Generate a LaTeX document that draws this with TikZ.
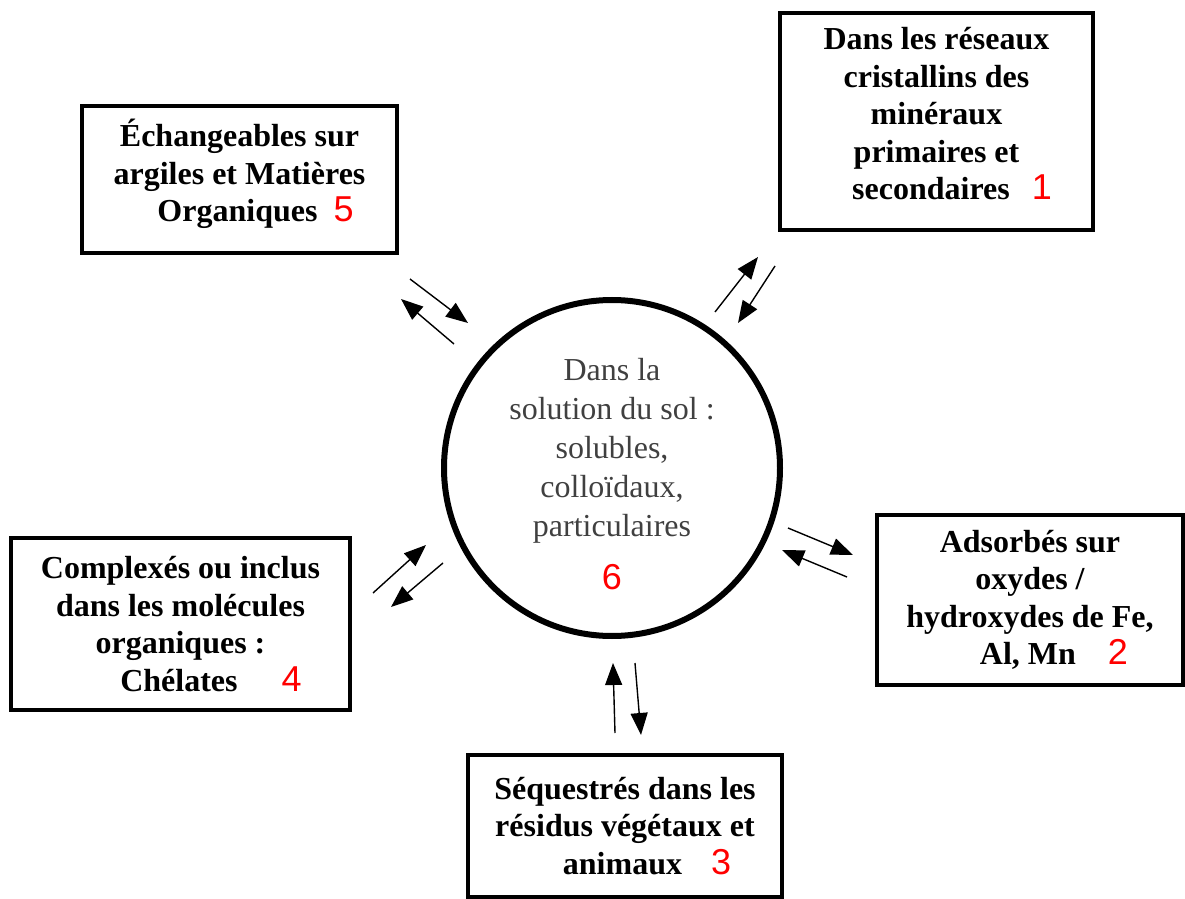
\documentclass[tikz,border=0pt]{standalone}
\usepackage{fontspec}
\setmainfont{Liberation Serif}
\newfontfamily\numfont{Liberation Sans}
\usetikzlibrary{arrows.meta}
\usetikzlibrary{calc,positioning}

\tikzset{
  reservoir/.style={draw, line width=2pt, align=center, inner sep=0pt,
    font=\bfseries\fontsize{16}{18.7}\selectfont},
  echange/.style={-{Triangle[length=11pt,width=8.5pt]}, line width=0.7pt},
}
\newcommand{\numero}[1]{{\numfont\mdseries\color{red}\fontsize{18}{18}\selectfont #1}}

\begin{document}
\begin{tikzpicture}[x=0.5pt, y=-0.5pt]
    \useasboundingbox (0,0) rectangle (1185,899);

    % solution du sol
    \node[circle, draw, line width=3pt, minimum size=168pt, inner sep=0pt, align=center,
          text=black!75, font=\fontsize{16}{19.5}\selectfont] (sol) at (612,468)
          {\rule{0pt}{17pt}Dans la\\ solution du sol :\\ solubles,\\ colloïdaux,\\ particulaires\\[7pt] \numero{6}};

    % reservoirs
    \node[reservoir, minimum width=156.5pt, minimum height=108.5pt, text depth=8pt] (b1) at (936.5,121.5)
          {Dans les réseaux\\ cristallins des\\ minéraux\\ primaires et\\ \hspace*{15.5pt}secondaires\hspace{11pt}\numero{1}};
    \node[reservoir, minimum width=153pt, minimum height=85pt] (b2) at (1030,600)
          {Adsorbés sur\\ oxydes /\\ hydroxydes de Fe,\\ \hspace*{24pt}Al, Mn\hspace{16pt}\numero{2}};
    \node[reservoir, minimum width=157pt, minimum height=71pt] (b3) at (625,826)
          {Séquestrés dans les\\ résidus végétaux et\\ \hspace*{22pt}animaux\hspace{14.5pt}\numero{3}};
    \node[reservoir, minimum width=169.5pt, minimum height=86pt] (b4) at (180.5,624)
          {Complexés ou inclus\\ dans les molécules\\ organiques :\\ \hspace*{30.5pt}Chélates\hspace{22pt}\numero{4}};
    \node[reservoir, minimum width=157.5pt, minimum height=73.5pt, text depth=9pt] (b5) at (239.5,179.5)
          {Échangeables sur\\ argiles et Matières\\ \hspace*{16pt}Organiques\hspace{8pt}\numero{5}};

    % extremites des fleches
    \coordinate (b1-out) at (715,312);  \coordinate (b1-in) at (758,257);
    \coordinate (b1-from) at (775,266); \coordinate (b1-to) at (738,323);
    \coordinate (b2-out) at (788,528);  \coordinate (b2-in) at (853,555);
    \coordinate (b2-from) at (847,577); \coordinate (b2-to) at (782,550);
    \coordinate (b3-out) at (615,733);  \coordinate (b3-in) at (613,663);
    \coordinate (b3-from) at (635,663); \coordinate (b3-to) at (641,735);
    \coordinate (b4-out) at (443,563);  \coordinate (b4-in) at (391,607);
    \coordinate (b4-from) at (373,593); \coordinate (b4-to) at (426,545);
    \coordinate (b5-out) at (454,344);  \coordinate (b5-in) at (401,299);
    \coordinate (b5-from) at (410,279); \coordinate (b5-to) at (468,323);

    % echanges
    \draw[echange] (b1-out) -- (b1-in);
    \draw[echange] (b1-from) -- (b1-to);
    \draw[echange] (b2-out) -- (b2-in);
    \draw[echange] (b2-from) -- (b2-to);
    \draw[echange] (b3-from) -- (b3-to);
    \draw[echange] (b3-out) -- (b3-in);
    \draw[echange] (b4-out) -- (b4-in);
    \draw[echange] (b4-from) -- (b4-to);
    \draw[echange] (b5-out) -- (b5-in);
    \draw[echange] (b5-from) -- (b5-to);

\end{tikzpicture}
\end{document}
